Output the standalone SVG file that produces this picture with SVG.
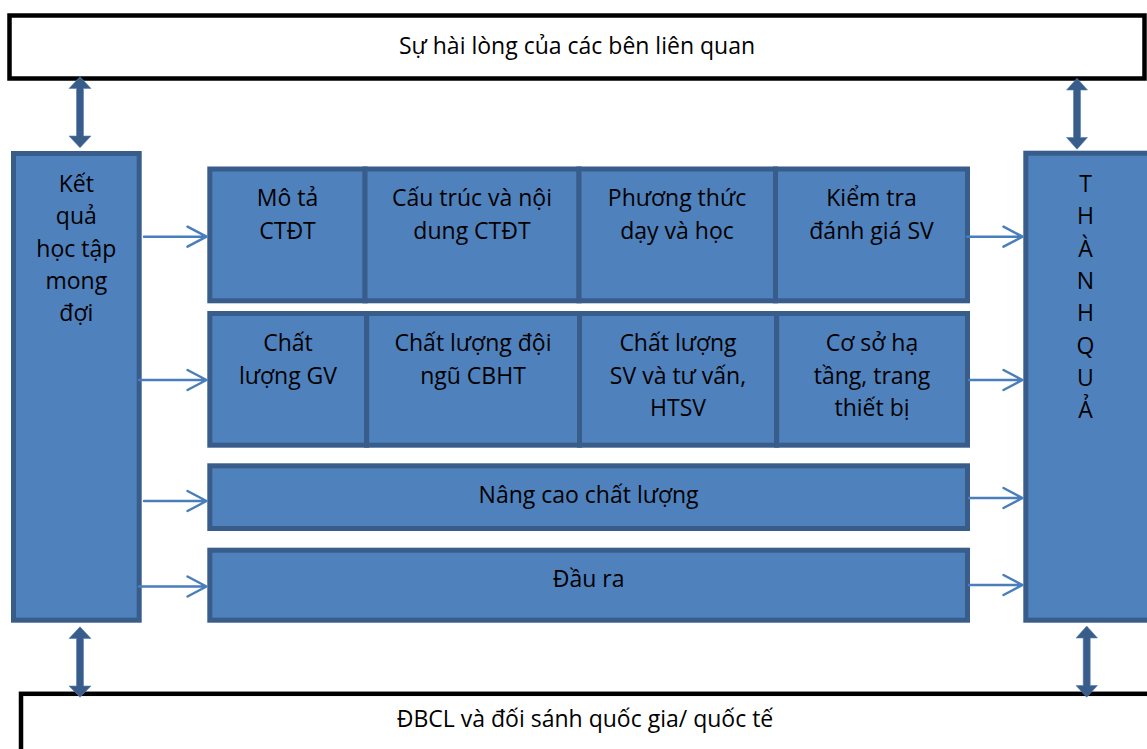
<svg xmlns="http://www.w3.org/2000/svg" width="1147" height="749" viewBox="0 0 1147 749">
  <style>
    .frame { fill: #ffffff; stroke: #000000; stroke-width: 4.5; }
    .box { fill: #4F81BD; stroke: #385D8A; stroke-width: 5; }
    .lbl { font-family: "Open Sans", Lato, "Liberation Sans", sans-serif; font-size: 23px; fill: #000000; text-anchor: middle; }
    .flow { fill: none; stroke: #4A7EBB; stroke-width: 2.5; stroke-linecap: round; stroke-linejoin: round; }
    .dbl { fill: #385D8A; stroke: #5A7FAE; stroke-width: 0.6; }
  </style>

  <!-- stakeholder satisfaction band -->
  <g id="top-band">
    <rect class="frame" x="9.5" y="15.5" width="1135" height="63"/>
    <text class="lbl" x="577" y="53.5">Sự hài lòng của các bên liên quan</text>
  </g>

  <!-- quality assurance / benchmarking band -->
  <g id="bottom-band">
    <rect class="frame" x="21" y="693.8" width="1140" height="100"/>
    <text class="lbl" x="585" y="726.5">ĐBCL và đối sánh quốc gia/ quốc tế</text>
  </g>

  <!-- expected learning outcomes column -->
  <g id="elo">
    <rect class="box" x="13.5" y="153.5" width="125.7" height="466.7"/>
    <text class="lbl" x="76.3" y="192">Kết</text>
    <text class="lbl" x="76.3" y="224.3">quả</text>
    <text class="lbl" x="76.3" y="256.6">học tập</text>
    <text class="lbl" x="76.3" y="289">mong</text>
    <text class="lbl" x="76.3" y="321.3">đợi</text>
  </g>

  <!-- achievements column -->
  <g id="achievements">
    <rect class="box" x="1025.8" y="153.2" width="124" height="467"/>
    <text class="lbl" x="1085.5" y="192">T</text>
    <text class="lbl" x="1085.5" y="224.3">H</text>
    <text class="lbl" x="1085.5" y="256.6">À</text>
    <text class="lbl" x="1085.5" y="289">N</text>
    <text class="lbl" x="1085.5" y="321.3">H</text>
    <text class="lbl" x="1085.5" y="353.6">Q</text>
    <text class="lbl" x="1085.5" y="386">U</text>
    <text class="lbl" x="1085.5" y="418.3">Ả</text>
  </g>

  <!-- row 1: programme -->
  <g id="mo-ta">
    <rect class="box" x="209.8" y="169" width="155.4" height="131.8"/>
    <text class="lbl" x="287.5" y="206">Mô tả</text>
    <text class="lbl" x="287.5" y="239">CTĐT</text>
  </g>
  <g id="cau-truc">
    <rect class="box" x="365" y="169" width="214" height="131.8"/>
    <text class="lbl" x="472" y="206">Cấu trúc và nội</text>
    <text class="lbl" x="472" y="239">dung CTĐT</text>
  </g>
  <g id="phuong-thuc">
    <rect class="box" x="579" y="169" width="196.5" height="131.8"/>
    <text class="lbl" x="677" y="206">Phương thức</text>
    <text class="lbl" x="677" y="239">dạy và học</text>
  </g>
  <g id="kiem-tra">
    <rect class="box" x="775.5" y="169" width="192" height="131.8"/>
    <text class="lbl" x="871.5" y="206">Kiểm tra</text>
    <text class="lbl" x="871.5" y="239">đánh giá SV</text>
  </g>

  <!-- row 2: resources -->
  <g id="giang-vien">
    <rect class="box" x="209.8" y="313.5" width="156.9" height="131.7"/>
    <text class="lbl" x="288" y="351">Chất</text>
    <text class="lbl" x="288" y="384">lượng GV</text>
  </g>
  <g id="cbht">
    <rect class="box" x="366.7" y="313.5" width="213" height="131.7"/>
    <text class="lbl" x="473" y="351">Chất lượng đội</text>
    <text class="lbl" x="473" y="384">ngũ CBHT</text>
  </g>
  <g id="sinh-vien">
    <rect class="box" x="579.5" y="313.5" width="197.2" height="131.7"/>
    <text class="lbl" x="678" y="351">Chất lượng</text>
    <text class="lbl" x="678" y="383.5">SV và tư vấn,</text>
    <text class="lbl" x="678" y="416">HTSV</text>
  </g>
  <g id="co-so">
    <rect class="box" x="776.7" y="313.5" width="190.8" height="131.7"/>
    <text class="lbl" x="872" y="351">Cơ sở hạ</text>
    <text class="lbl" x="872" y="383.5">tầng, trang</text>
    <text class="lbl" x="872" y="416">thiết bị</text>
  </g>

  <!-- row 3 and row 4 -->
  <g id="nang-cao">
    <rect class="box" x="209.8" y="465.8" width="757.7" height="62.7"/>
    <text class="lbl" x="588.6" y="503">Nâng cao chất lượng</text>
  </g>
  <g id="dau-ra">
    <rect class="box" x="209.8" y="550.2" width="757.7" height="70"/>
    <text class="lbl" x="588.6" y="587">Đầu ra</text>
  </g>

  <!-- connectors -->
  <g id="connectors">
    <!-- outcome column into the rows -->
    <path class="flow" d="M144 236.7 H206.5 M187.5 226.7 L206.5 236.7 L187.5 246.7"/>
    <path class="flow" d="M139 380 H206.5 M187.5 370 L206.5 380 L187.5 390"/>
    <path class="flow" d="M144 501 H206.5 M187.5 491 L206.5 501 L187.5 511"/>
    <path class="flow" d="M139 586.5 H206.5 M187.5 576.5 L206.5 586.5 L187.5 596.5"/>
    <!-- rows into the achievements column -->
    <path class="flow" d="M967 236.7 H1022.5 M1003.5 226.7 L1022.5 236.7 L1003.5 246.7"/>
    <path class="flow" d="M969 380 H1022.5 M1003.5 370 L1022.5 380 L1003.5 390"/>
    <path class="flow" d="M969 498 H1022.5 M1003.5 488 L1022.5 498 L1003.5 508"/>
    <path class="flow" d="M969 585 H1022.5 M1003.5 575 L1022.5 585 L1003.5 595"/>
    <!-- two-way links to the bands -->
    <polygon class="dbl" points="80,76.7 91,88.5 83.5,88.5 83.5,136 91,136 80,147.7 69,136 76.5,136 76.5,88.5 69,88.5"/>
    <polygon class="dbl" points="1077,78.3 1087.5,90 1080.5,90 1080.5,137.5 1087.5,137.5 1077,149.3 1066.5,137.5 1073.5,137.5 1073.5,90 1066.5,90"/>
    <polygon class="dbl" points="80,626.7 91,638.5 83.5,638.5 83.5,686 91,686 80,697.3 69,686 76.5,686 76.5,638.5 69,638.5"/>
    <polygon class="dbl" points="1086.7,626 1097.5,638 1090.2,638 1090.2,685.5 1097.5,685.5 1086.7,697.3 1076,685.5 1083.2,685.5 1083.2,638 1076,638"/>
  </g>
</svg>
